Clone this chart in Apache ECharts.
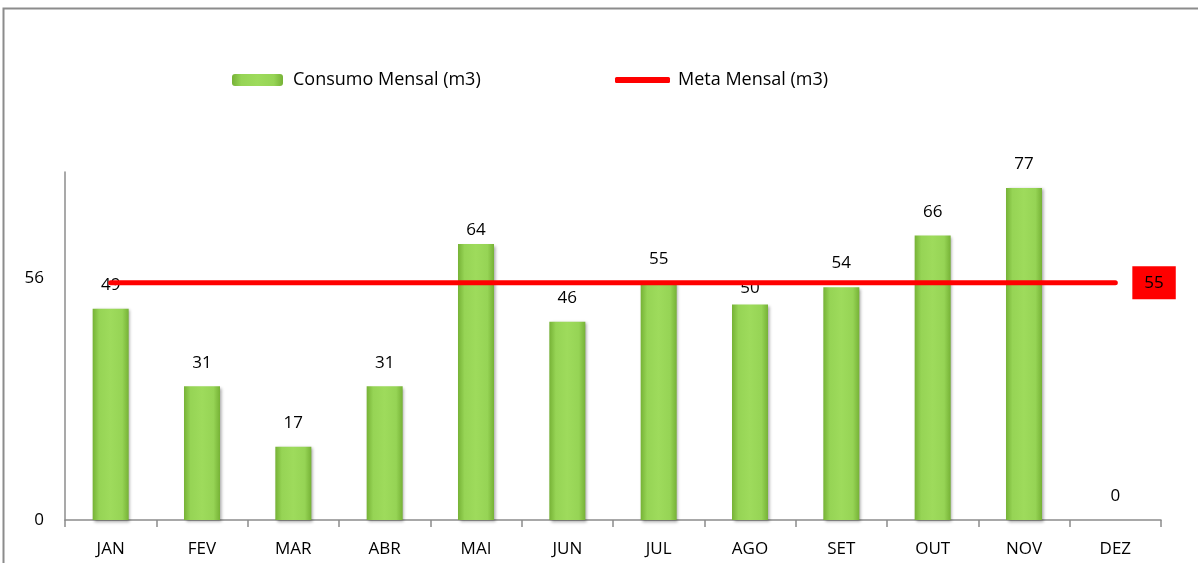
<!DOCTYPE html>
<html>
<head>
<meta charset="utf-8">
<script src="https://cdn.jsdelivr.net/npm/echarts@6/dist/echarts.min.js"></script>
<style>html,body{margin:0;padding:0;background:#fff}#c{width:1198px;height:563px}</style>
</head>
<body>
<div id="c"></div>
<script>
const categories = ['JAN','FEV','MAR','ABR','MAI','JUN','JUL','AGO','SET','OUT','NOV','DEZ'];
const consumo = [49, 31, 17, 31, 64, 46, 55, 50, 54, 66, 77, 0];
const meta = [55, 55, 55, 55, 55, 55, 55, 55, 55, 55, 55, 55];
const yTicks = [0, 56];

// per-bar label distance tweaks (labels moved manually in the original)
const labelDistance = {4: 5, 7: 8};

const FONT = 'Open Sans';
const chart = echarts.init(document.getElementById('c'));
const barGrad = new echarts.graphic.LinearGradient(0, 0, 1, 0, [
  {offset: 0, color: '#76b236'},
  {offset: 0.18, color: '#96d455'},
  {offset: 0.5, color: '#9edb5c'},
  {offset: 0.82, color: '#96d455'},
  {offset: 1, color: '#76b236'}
]);
const barData = consumo.map((v, i) => (labelDistance[i] !== undefined
  ? {value: v, label: {distance: labelDistance[i]}} : v));

chart.setOption({
  animation: false,
  textStyle: {fontFamily: FONT},
  graphic: [{
    type: 'rect', shape: {x: 3.5, y: 8.5, width: 1220, height: 600},
    style: {fill: 'none', stroke: '#8c8c8c', lineWidth: 2}, silent: true
  }],
  legend: [{
    left: 227, top: 66, itemWidth: 51, itemHeight: 12,
    textStyle: {fontFamily: FONT, fontSize: 18, color: '#000', padding: [0, 0, 0, 5]},
    data: [{name: 'Consumo Mensal (m3)'}]
  }, {
    left: 610, top: 66, itemWidth: 55, itemHeight: 6,
    textStyle: {fontFamily: FONT, fontSize: 18, color: '#000', padding: [0, 0, 0, 3]},
    data: [{name: 'Meta Mensal (m3)', icon: 'roundRect', itemStyle: {color: '#ff0000'}}]
  }],
  grid: {left: 65, right: 37, top: 172, bottom: 43, containLabel: false},
  xAxis: {
    type: 'category', data: categories,
    axisLine: {lineStyle: {color: '#8c8c8c', width: 1.5}},
    axisTick: {show: true, length: 7, lineStyle: {color: '#8c8c8c', width: 1.5}},
    axisLabel: {fontFamily: FONT, fontSize: 17, color: '#000', margin: 21}
  },
  yAxis: {
    type: 'value', min: 0, max: 80.7, interval: 56,
    axisLine: {show: true, lineStyle: {color: '#8c8c8c', width: 1.5}},
    axisTick: {show: false},
    splitLine: {show: false},
    axisLabel: {fontFamily: FONT, fontSize: 17, color: '#000', margin: 21, showMaxLabel: false,
      formatter: v => (yTicks.indexOf(v) >= 0 ? String(v) : '')}
  },
  series: [
    {
      name: 'Consumo Mensal (m3)', type: 'bar', data: barData, barWidth: 36, z: 2,
      itemStyle: {color: barGrad, borderWidth: 0,
        shadowColor: 'rgba(0,0,0,0.35)', shadowBlur: 3, shadowOffsetX: 1.5, shadowOffsetY: 1.5},
      label: {show: true, position: 'top', distance: 15, fontFamily: FONT, fontSize: 17, color: '#000'}
    },
    {
      name: 'Meta Mensal (m3)', type: 'line', data: meta, symbol: 'none', z: 3,
      lineStyle: {color: '#ff0000', width: 5, cap: 'round'},
      itemStyle: {color: '#ff0000'},
      endLabel: {show: true, distance: 17, fontFamily: FONT, fontSize: 17, color: '#000',
        backgroundColor: '#ff0000', padding: [8, 12, 8, 12],
        formatter: p => String(p.value)}
    }
  ]
});
</script>
</body>
</html>
